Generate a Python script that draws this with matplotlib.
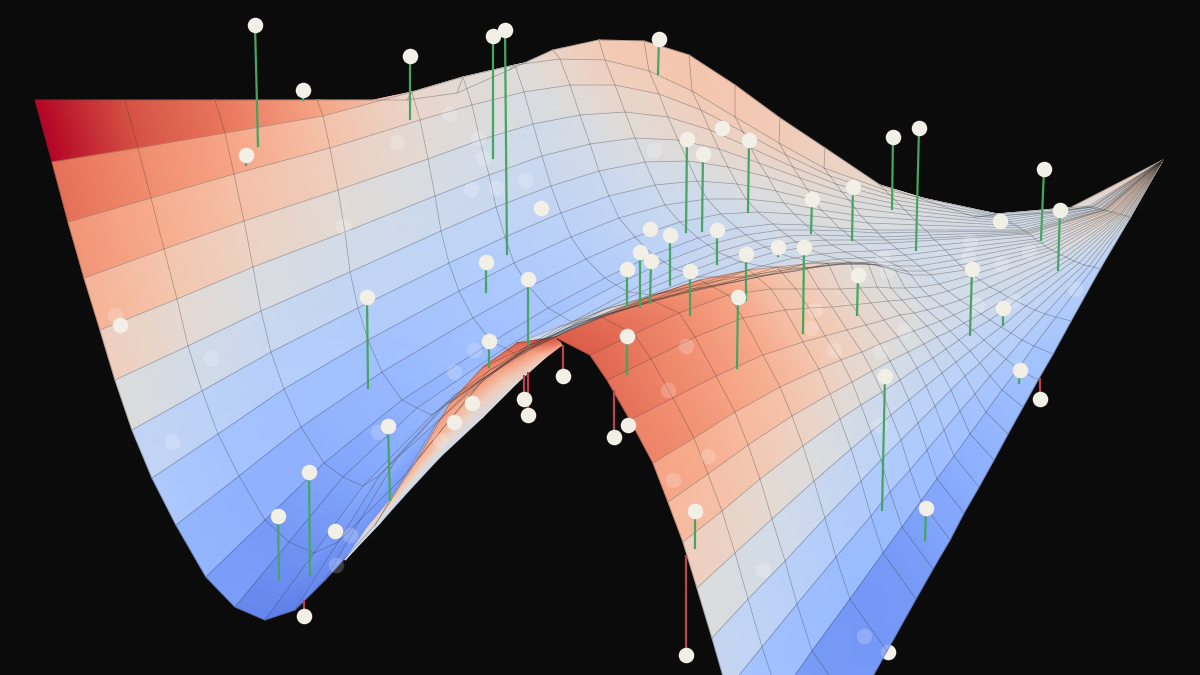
import numpy as np
import matplotlib
matplotlib.use('Agg')
import matplotlib.pyplot as plt

# surface nodes: rows run along the near edge, columns towards the far corner
mesh_x = [
[35,125,215,317,407,457,509,553,599,644,689,735,780,825,880,975,1062,1163],
[52,138,225,323,412,463,515,560,605,649,692,735,779,824,885,997,1089,1163],
[68,151,234,330,420,472,524,570,615,659,701,743,786,830,890,1000,1091,1163],
[84,164,244,338,428,480,533,580,625,668,710,751,793,836,895,1004,1092,1163],
[100,177,253,345,435,489,542,590,635,678,719,759,800,842,900,1007,1094,1163],
[115,188,261,350,441,496,551,599,645,688,728,768,807,849,905,1010,1096,1163],
[132,202,271,358,449,505,561,609,655,697,737,776,814,855,910,1013,1097,1163],
[152,218,284,368,459,514,571,619,665,707,746,784,821,861,915,1017,1099,1163],
[176,239,301,382,473,529,586,635,680,721,758,794,830,868,920,1020,1101,1163],
[206,265,324,402,492,548,605,653,698,737,773,806,839,875,925,1023,1102,1163],
[235,289,343,417,505,560,616,664,708,746,780,812,844,878,928,1025,1103,1163],
[265,314,363,432,517,572,628,675,718,755,788,818,849,882,930,1026,1104,1163],
[295,338,380,444,528,583,639,686,729,765,796,825,854,886,932,1028,1105,1163],
[325,361,397,455,538,593,650,698,740,775,805,832,860,890,935,1029,1106,1163],
[375,406,437,490,569,622,676,722,762,794,821,845,870,897,940,1032,1107,1163],
[417,448,479,530,604,655,705,748,785,814,838,859,880,905,945,1035,1109,1163],
[450,486,522,575,644,689,735,773,806,832,853,871,889,912,950,1038,1111,1163],
[483,524,566,620,683,723,763,796,825,848,866,882,898,919,955,1042,1112,1163],
[517,561,606,660,717,751,786,814,840,861,876,890,906,925,960,1045,1114,1163],
[555,601,647,700,749,777,804,828,850,868,883,896,911,931,965,1048,1115,1163],
[590,634,679,728,771,796,819,840,860,877,891,905,920,939,972,1052,1117,1163],
[607,651,695,743,785,809,832,852,871,888,902,915,929,948,980,1056,1118,1163],
[630,673,716,763,803,825,847,866,884,900,914,927,942,960,990,1061,1120,1163],
[653,694,735,780,819,841,862,880,898,914,927,940,954,971,1000,1066,1121,1163],
[668,708,748,792,830,852,872,890,908,924,937,950,964,981,1008,1070,1122,1163],
[683,722,760,803,840,861,882,900,917,933,946,959,973,990,1016,1074,1124,1163],
[697,735,772,814,851,871,891,909,926,942,956,970,984,1001,1026,1079,1125,1163],
[712,748,785,825,861,881,901,918,935,951,965,980,994,1011,1035,1084,1126,1163],
[727,762,797,836,871,890,910,927,944,960,975,990,1006,1022,1045,1089,1128,1163],
[745,779,812,850,883,902,921,937,954,970,986,1002,1018,1034,1056,1094,1129,1163],
[795,824,854,887,916,933,950,964,979,994,1008,1023,1038,1053,1071,1100,1130,1163]]
mesh_y = [
[100,100,100,100,100,93,70,50,40,41,55,85,118,148,185,217,212,160],
[162,148,133,116,92,77,65,59,60,71,91,117,143,168,190,214,206,160],
[222,198,174,148,120,105,92,85,85,94,110,132,155,176,195,216,207,160],
[278,249,221,190,159,140,124,115,112,117,130,148,167,184,200,218,207,160],
[330,299,267,232,196,175,156,144,138,140,149,163,178,192,205,220,207,160],
[380,346,311,272,231,207,186,171,162,161,167,177,189,200,210,222,208,160],
[430,391,352,308,263,237,213,196,185,181,184,191,200,208,215,224,208,160],
[478,434,389,340,291,263,237,218,205,199,199,203,210,216,220,226,209,160],
[525,476,427,372,318,287,259,237,222,214,212,214,218,223,225,228,209,160],
[577,520,463,400,342,308,278,255,238,228,224,225,228,230,230,230,209,160],
[607,542,477,408,348,315,285,262,245,235,230,230,231,233,232,231,210,160],
[620,553,486,415,355,322,292,269,252,241,236,235,236,237,235,232,210,160],
[610,542,475,405,349,319,293,273,257,247,242,240,240,240,238,233,210,160],
[580,519,458,395,345,318,295,277,262,252,247,245,244,243,240,234,210,160],
[525,474,422,370,330,310,291,277,266,258,254,252,251,249,245,236,211,160],
[460,422,384,345,315,300,287,277,268,262,259,258,257,255,250,239,211,160],
[403,377,352,325,304,292,282,274,268,264,263,262,262,260,255,241,212,160],
[367,348,329,308,292,284,276,271,266,264,264,265,266,266,260,243,212,160],
[343,326,309,293,281,275,270,267,264,264,265,268,271,271,265,246,212,160],
[337,317,298,280,270,267,264,263,262,263,267,271,275,275,270,248,213,160],
[355,334,313,295,289,289,289,289,288,287,288,288,287,284,275,250,213,160],
[380,359,337,318,310,308,307,305,303,301,300,298,296,291,280,252,214,160],
[420,398,376,355,342,336,330,325,320,315,313,310,306,300,287,255,214,160],
[463,438,412,387,369,360,352,344,337,331,326,321,315,307,292,257,214,160],
[502,474,445,416,394,382,371,361,352,344,337,331,323,314,297,259,215,160],
[542,511,479,446,419,405,392,380,368,358,349,340,330,320,301,261,215,160],
[588,553,519,481,449,432,415,400,386,373,362,351,340,327,306,263,216,160],
[638,599,561,518,481,460,440,423,406,390,376,363,349,333,310,265,216,160],
[690,647,604,557,516,492,470,450,430,411,394,376,359,340,314,266,216,160],
[745,698,651,599,553,527,501,479,456,434,412,390,369,346,317,267,217,160],
[815,763,710,651,599,569,540,513,487,460,434,407,380,354,321,269,218,160]]
# height of each band between two rows, 0 to 100 on the colour scale
mesh_z = [
[100,90,83,72,58,55,52,56,60,61,62,61,60,57,54,47,50,62],
[84,78,72,63,55,52,50,54,58,59,60,59,58,55,52,46,49,62],
[76,70,64,58,52,50,48,51,55,56,58,57,56,53,51,46,49,61],
[68,62,57,52,48,46,45,48,52,54,56,55,55,52,50,46,49,61],
[58,53,49,46,44,43,43,46,49,51,53,53,53,51,49,46,48,60],
[50,46,43,41,40,40,41,43,46,48,51,51,52,50,49,46,48,60],
[41,39,37,36,36,37,39,41,44,46,49,50,51,50,49,46,48,60],
[34,32,31,31,33,35,37,40,43,45,48,49,50,49,48,46,48,60],
[27,26,26,28,31,33,36,39,42,44,47,48,50,49,48,46,48,60],
[20,19,22,26,30,32,35,38,42,44,46,47,48,47,47,46,48,60],
[14,17,22,27,31,34,37,40,43,45,47,47,47,46,46,47,52,61],
[12,18,24,28,32,35,38,41,44,45,47,47,47,46,46,47,55,62],
[14,18,24,28,32,35,38,41,44,45,47,47,47,46,46,47,55,62],
[17,20,25,29,33,36,39,41,44,45,47,47,47,46,46,47,55,62],
[22,24,27,31,35,37,40,42,45,46,47,47,47,46,46,47,55,62],
[26,27,29,33,37,39,41,43,46,47,48,47,47,46,46,47,55,62],
[30,31,33,36,39,41,43,44,46,47,48,47,47,46,46,47,55,62],
[35,36,38,40,42,43,45,46,47,47,48,47,47,46,46,47,55,62],
[42,46,54,62,60,57,54,52,50,49,48,48,47,47,46,47,55,62],
[88,84,80,74,66,62,58,55,52,51,50,48,47,46,46,47,55,62],
[86,82,78,72,64,61,58,55,53,51,50,48,47,47,46,47,55,62],
[84,80,76,71,64,61,58,55,53,51,50,48,47,46,46,47,54,62],
[80,77,73,68,62,59,56,54,52,50,49,47,46,46,45,46,53,62],
[72,70,66,63,58,55,53,51,49,48,47,46,45,45,44,45,52,62],
[66,64,61,57,53,51,49,47,46,45,44,43,43,43,43,44,51,62],
[58,56,53,50,47,45,44,43,42,42,42,41,41,41,41,43,51,62],
[50,48,46,43,41,40,40,39,39,39,39,39,39,39,40,42,50,62],
[42,40,38,36,35,35,35,35,35,35,36,36,37,38,39,41,50,62],
[33,31,30,29,29,29,30,30,31,31,32,33,34,35,36,40,49,62],
[23,21,19,18,19,20,22,23,25,26,28,29,31,32,34,38,48,62]]

# the fold where the near edge turns over the arch
fold_x = [[345,345,345,345],[380,376,372,368],[403,399,396,392],[440,432,425,417],[483,472,461,450],[517,506,494,483],[545,536,526,517],[562,560,557,555]]
fold_y = [[560,560,560,560],[523,524,526,527],[497,497,498,498],[457,458,459,460],[417,412,408,403],[383,378,372,367],[358,353,348,343],[345,342,340,337]]
fold_z = [[44,44,44,44],[44,48,52,56],[44,50,57,62],[45,52,62,70],[47,56,68,76],[52,62,74,82],[60,72,82,88],[75,85,88,90]]

# points above the surface and where their stems land
above_x = [255,303,410,493,505,659,246,687,703,749,893,919,812,853,1044,1060,670,717,640,651,627,486,528,690,746,778,804,858,972,1003,738,367,627,489,885,388,309,278,695,926,1020]
above_y = [25,90,56,36,30,39,155,139,154,140,137,128,199,187,169,210,235,230,252,261,269,262,279,271,254,247,247,275,269,308,297,297,336,341,376,426,472,516,511,508,370]
foot_x = [258,303,410,493,507,658,246,686,702,748,892,916,811,852,1041,1058,670,717,640,650,627,486,528,690,746,778,803,857,970,1003,737,368,627,489,882,390,310,279,695,925,1019]
foot_y = [146,100,119,158,254,74,165,232,231,212,209,250,233,240,240,270,285,264,307,303,306,292,345,315,300,256,333,315,335,325,368,388,374,367,510,500,575,580,548,540,383]
# points below the surface, seen past the edge
below_x = [563,524,528,614,686,1040,304]
below_y = [376,399,415,437,655,399,616]
below_top = [345,375,372,390,555,378,600]
# points with no visible stem
plain_x = [722,1000,650,541,120,628,472,454,335]
plain_y = [128,221,229,208,325,425,403,422,531]
# points seen through the surface
ghost_x = [449,478,397,483,471,496,525,343,654,211,474,454,172,378,440,350,336,763,864,888,673,708,668,686,815,811,834,880,904,883,887,970,968,1001,1029,1075,977,1013,880,115]
ghost_y = [114,138,142,158,189,188,180,226,150,358,350,372,442,432,440,535,565,570,636,652,480,456,390,346,310,328,350,351,330,258,271,242,256,264,251,289,305,300,425,315]

X = np.array(mesh_x,float)
Y = np.array(mesh_y,float)
Z = np.array(mesh_z,float)

fig = plt.figure(figsize=(12,6.75),dpi=100,facecolor='#0b0b0b')
ax = fig.add_axes([0,0,1,1])
ax.set_xlim(0,1200)
ax.set_ylim(675,0)
ax.axis('off')

# half hidden point under the lower right corner
ax.scatter([888],[652],s=125,color='#f2efe6',linewidths=0,zorder=.5)

for i in range(Z.shape[0]):
    ax.pcolormesh(X[i:i+2],Y[i:i+2],np.vstack([Z[i],Z[i]]),shading='gouraud',cmap='coolwarm',vmin=0,vmax=100)
ax.plot(X,Y,color='#333333',alpha=.4,lw=.5)
ax.plot(X.T,Y.T,color='#333333',alpha=.4,lw=.5)
ax.pcolormesh(np.array(fold_x,float),np.array(fold_y,float),np.array(fold_z,float),shading='gouraud',cmap='coolwarm',vmin=0,vmax=100)

ax.scatter(ghost_x,ghost_y,s=125,color='#ffffff',alpha=.2,linewidths=0,zorder=3)
ax.vlines(below_x,below_y,below_top,color='#b8434f',lw=1.6,zorder=3)
for a,b,c,d in zip(above_x,above_y,foot_x,foot_y):
    ax.plot([a,c],[b,d],color='#45a561',lw=1.6,zorder=3)
ax.scatter(above_x+below_x+plain_x,above_y+below_y+plain_y,s=125,color='#f2efe6',linewidths=0,zorder=4)

fig.savefig('out.png',dpi=100,facecolor=fig.get_facecolor())
